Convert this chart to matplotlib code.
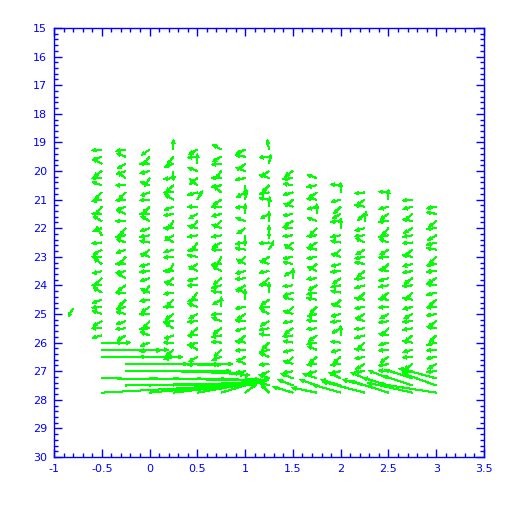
import numpy as np
import matplotlib
matplotlib.use("Agg")
import matplotlib.pyplot as plt
from matplotlib.ticker import MultipleLocator, FixedLocator

# ---------------- data ----------------
col_x = [-0.5, -0.25, 0.0, 0.25, 0.5, 0.75, 1.0, 1.25, 1.5, 1.75, 2.0, 2.25, 2.5, 2.75, 3.0]
col_top = [19.25, 19.25, 19.25, 19.25, 19.25, 19.25, 19.25, 19.25, 20.0, 20.25, 20.5, 20.75, 20.75, 21.0, 21.25]

# small-arrow directions (degrees on screen, 180 = pointing left), top to bottom, step 0.25
ang_c00 = [185, 200, 150, 215, 180, 160, 225, 190, 230, 180, 150, 200, 120, 185, 210, 180, 145, 195, 225, 180, 150, 200, 185, 160, 210, 180, 195]
ang_c01 = [190, 160, 210, 200, 145, 180, 225, 185, 200, 155, 180, 230, 190, 160, 200, 230, 180, 190, 150, 215, 180, 225, 195, 165, 200, 185, 210, 180]
ang_c02 = [215, 230, 180, 195, 240, 160, 200, 185, 225, 180, 150, 200, 190, 170, 220, 160, 195, 185, 200, 235, 155, 190, 215, 180, 230, 185, 160, 200, 190, 180]
ang_c03 = [90, 230, 200, 270, 185, 220, 180, 150, 200, 190, 235, 180, 210, 145, 195, 185, 240, 180, 215, 160, 190, 225, 180, 215, 185, 150, 200, 180, 220, 195]
ang_c04 = [210, 185, 90, 160, 220, 140, 195, 60, 180, 210, 230, 165, 190, 240, 185, 170, 215, 150, 195, 180, 235, 190, 160, 210, 185, 220, 180, 195, 150, 210, 185]
ang_c05 = [150, 210, 185, 235, 180, 190, 140, 215, 180, 195, 225, 160, 190, 210, 180, 245, 185, 150, 220, 195, 170, 210, 90, 185, 160, 215, 190, 175, 225, 200, 185]
ang_c06 = [205, 170, 220, 160, 190, 270, 210, 80, 185, 90, 160, 215, 270, 190, 170, 225, 150, 195, 185, 215, 160, 90, 190, 215, 175, 195, 225, 170, 185, 210, 150, 190]
ang_c07 = [100, 185, 80, 215, 160, 225, 190, 170, 85, 210, 90, 270, 90, 185, 60, 215, 160, 190, 225, 175, 90, 215, 185, 150, 210, 190, 170, 225, 195, 160, 185, 210]
ang_c08 = [215, 185, 170, 195, 225, 160, 190, 210, 175, 185, 220, 150, 190, 170, 210, 90, 185, 200, 165, 225, 160, 190, 215, 185, 170, 195, 225, 160, 190]
ang_c09 = [160, 190, 215, 175, 195, 90, 160, 225, 185, 210, 170, 190, 220, 155, 185, 210, 190, 170, 225, 195, 175, 185, 215, 190, 160, 220, 185, 195]
ang_c10 = [175, 90, 195, 225, 210, 185, 90, 190, 170, 220, 160, 195, 185, 215, 190, 170, 225, 160, 195, 185, 210, 90, 175, 195, 220, 185, 190]
ang_c11 = [185, 215, 170, 225, 80, 195, 185, 155, 210, 190, 170, 220, 185, 195, 230, 170, 190, 210, 160, 185, 195, 225, 175, 190, 210, 185]
ang_c12 = [175, 90, 195, 215, 185, 230, 190, 160, 210, 185, 225, 170, 195, 190, 220, 175, 185, 210, 190, 225, 170, 195, 185, 215, 190, 175]
ang_c13 = [185, 195, 225, 170, 210, 190, 185, 220, 170, 195, 190, 215, 185, 230, 170, 195, 210, 185, 190, 220, 170, 195, 185, 215, 190]
ang_c14 = [190, 170, 220, 185, 210, 195, 170, 225, 190, 185, 210, 170, 195, 220, 185, 190, 215, 170, 225, 195, 185, 190, 210, 185]
col_angles = [ang_c00, ang_c01, ang_c02, ang_c03, ang_c04, ang_c05, ang_c06, ang_c07,
              ang_c08, ang_c09, ang_c10, ang_c11, ang_c12, ang_c13, ang_c14]

# long arrows near the bottom (data units)
x_long = [-0.5, -0.5, -0.5, -0.5, -0.5,
          -0.25, -0.25, -0.25, -0.25, -0.25,
          0.0, 0.0, 0.0, 0.0, 0.0,
          0.25, 0.25, 0.25, 0.25, 0.25,
          0.5, 0.5, 0.5, 0.5,
          0.75, 0.75, 0.75, 0.75,
          1.0, 1.0, 1.0,
          1.25, 1.5, 1.75, 2.0, 2.25, 2.5, 2.75, 3.0,
          1.25, 1.5, 1.75, 2.0, 2.25, 2.5, 2.75, 3.0,
          1.25, 1.5, 1.75, 2.0, 2.25, 2.5, 2.75, 3.0]
y_long = [26.0, 26.25, 26.5, 27.25, 27.75,
          26.25, 26.5, 26.75, 27.0, 27.5,
          26.75, 27.0, 27.25, 27.5, 27.75,
          26.75, 27.0, 27.25, 27.5, 27.75,
          27.0, 27.25, 27.5, 27.75,
          27.0, 27.25, 27.5, 27.75,
          27.25, 27.5, 27.75,
          27.25, 27.25, 27.25, 27.25, 27.25, 27.25, 27.25, 27.25,
          27.5, 27.5, 27.5, 27.5, 27.5, 27.5, 27.5, 27.5,
          27.75, 27.75, 27.75, 27.75, 27.75, 27.75, 27.75, 27.75]
u_long = [0.30, 0.62, 0.85, 1.75, 1.62,
          0.45, 0.50, 1.12, 1.10, 1.45,
          0.40, 0.85, 1.20, 1.15, 1.10,
          0.50, 0.70, 0.95, 0.90, 0.88,
          0.50, 0.65, 0.65, 0.60,
          0.30, 0.42, 0.40, 0.35,
          0.15, 0.12, 0.12,
          -0.105, -0.125, -0.146, -0.125, -0.146, -0.21, -0.29, -0.39,
          -0.105, -0.157, -0.178, -0.21, -0.23, -0.27, -0.31, -0.345,
          -0.084, -0.21, -0.26, -0.29, -0.44, -0.40, -0.47, -0.60]
v_long = [0.0, 0.02, 0.0, 0.05, -0.30,
          0.0, 0.0, 0.0, 0.0, -0.10,
          0.0, 0.02, 0.08, -0.10, -0.35,
          0.03, 0.08, 0.10, -0.10, -0.35,
          0.12, 0.10, -0.12, -0.35,
          0.15, 0.10, -0.12, -0.35,
          0.05, -0.10, -0.30,
          -0.14, -0.175, -0.175, -0.21, -0.21, -0.28, -0.31, -0.35,
          -0.14, -0.21, -0.21, -0.21, -0.21, -0.28, -0.35, -0.42,
          -0.28, -0.21, -0.175, -0.28, -0.385, -0.42, -0.35, -0.31]

# isolated arrow on the left
x_iso = [-0.8]
y_iso = [24.8]
ang_iso = [240]

x_ticks = [-1, -0.5, 0, 0.5, 1, 1.5, 2, 2.5, 3, 3.5]
x_tick_labels = ["-1", "-0.5", "0", "0.5", "1", "1.5", "2", "2.5", "3", "3.5"]
y_ticks = list(range(15, 31))
y_tick_labels = [str(v) for v in y_ticks]

# ---------------- figure ----------------
BLUE = "#0000ff"
GREEN = "#00ff00"
fig = plt.figure(figsize=(5.12, 5.12), dpi=100)
ax = fig.add_axes([54 / 512, 55 / 512, 430 / 512, 429 / 512])
ax.set_xlim(-1, 3.5)
ax.set_ylim(30, 15)

# pixels per data unit (for converting small-arrow screen lengths)
PX_X = 430 / 4.5
PX_Y = 429 / 15.0
L_SMALL = 10.0

xs, ys, us, vs = [], [], [], []
for cx, top, angs in zip(col_x, col_top, col_angles):
    for i, a in enumerate(angs):
        r = np.deg2rad(a)
        xs.append(cx)
        ys.append(top + 0.25 * i)
        us.append(L_SMALL * np.cos(r) / PX_X)
        vs.append(-L_SMALL * np.sin(r) / PX_Y)
for x0, y0, a in zip(x_iso, y_iso, ang_iso):
    r = np.deg2rad(a)
    xs.append(x0)
    ys.append(y0)
    us.append(10 * np.cos(r) / PX_X)
    vs.append(-10 * np.sin(r) / PX_Y)

qkw = dict(angles="xy", scale_units="xy", scale=1, color=GREEN,
           width=0.0024, headwidth=3.5, headlength=4.0, headaxislength=3.6,
           minlength=0.1, antialiased=False)
ax.quiver(xs, ys, us, vs, **qkw)
ax.quiver(x_long, y_long, u_long, v_long, **qkw)

# ---------------- axes styling ----------------
for s in ax.spines.values():
    s.set_color(BLUE)
    s.set_linewidth(1.0)
ax.xaxis.set_major_locator(FixedLocator(x_ticks))
ax.set_xticklabels(x_tick_labels)
ax.yaxis.set_major_locator(FixedLocator(y_ticks))
ax.set_yticklabels(y_tick_labels)
ax.xaxis.set_minor_locator(MultipleLocator(0.1))
ax.yaxis.set_minor_locator(MultipleLocator(0.2))
ax.tick_params(which="both", direction="in", colors=BLUE, top=True, right=True,
               labelcolor=BLUE, labelsize=8, width=1.0)
ax.tick_params(which="major", length=6)
ax.tick_params(which="minor", length=3)
ax.tick_params(axis="x", which="major", pad=5)
ax.tick_params(axis="y", which="major", pad=5)

fig.savefig("out.png", dpi=100)
